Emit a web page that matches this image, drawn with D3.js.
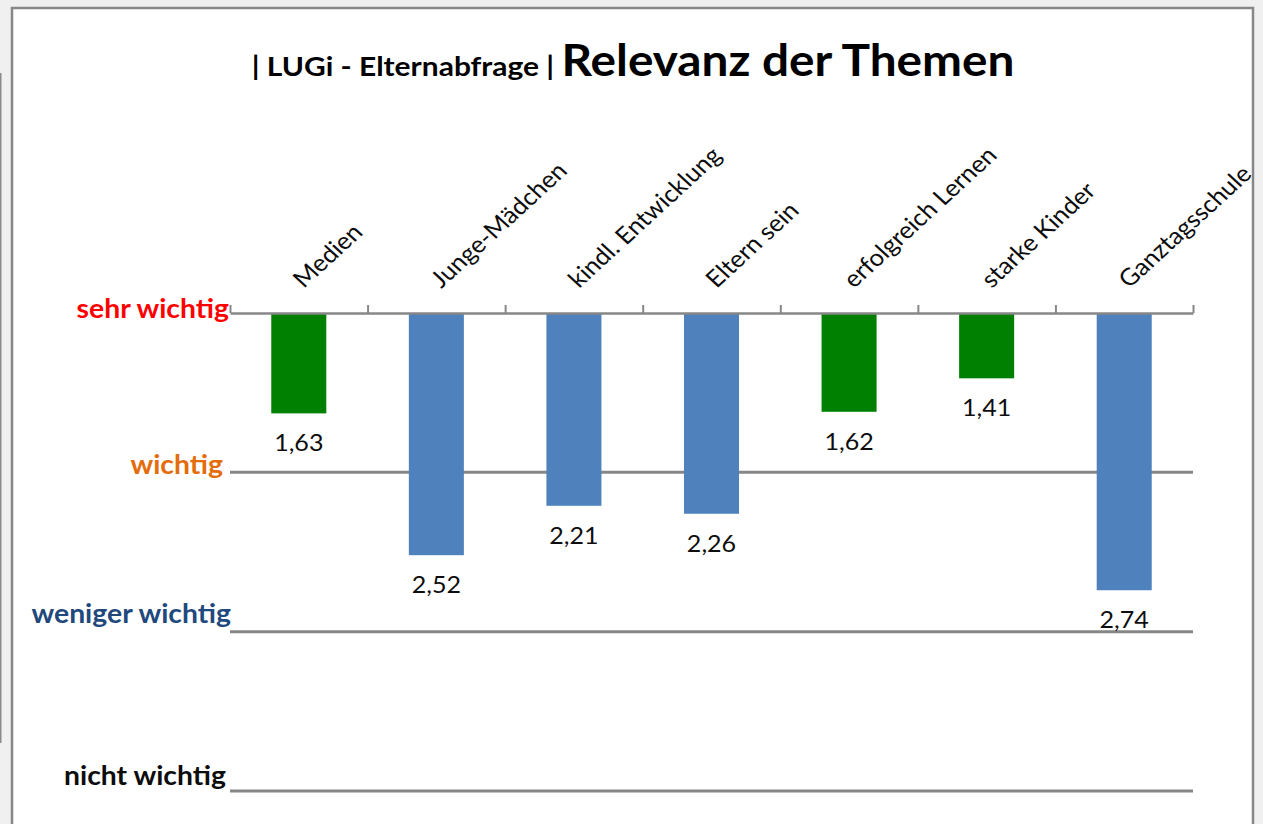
<!DOCTYPE html>
<html>
<head>
<meta charset="utf-8">
<script src="https://cdn.jsdelivr.net/npm/d3@7"></script>
<style>
  html, body { margin: 0; padding: 0; background: #f0f0f0; overflow: hidden; }
  svg { display: block; font-family: Lato, 'Open Sans', sans-serif; }
</style>
</head>
<body>
<div id="chart"></div>
<script>
const categories = ['Medien', 'Junge-Mädchen', 'kindl. Entwicklung', 'Eltern sein', 'erfolgreich Lernen', 'starke Kinder', 'Ganztagsschule'];
const values = [1.63, 2.52, 2.21, 2.26, 1.62, 1.41, 2.74];
const levels = [1, 2, 3, 4];
const levelNames = ['sehr wichtig', 'wichtig', 'weniger wichtig', 'nicht wichtig'];
const titleSmall = '| LUGi - Elternabfrage | ';
const titleBig = 'Relevanz der Themen';

// label colours and small nudges, the original had hand placed text boxes
const levelStyle = {
    'sehr wichtig': { color: '#ff0000', dx: 1, dy: 5 },
    'wichtig': { color: '#e46c0a', dx: -5, dy: 2 },
    'weniger wichtig': { color: '#1f497d', dx: 3, dy: -9 },
    'nicht wichtig': { color: '#0d0d0d', dx: -2, dy: -6 }
};

// the source picture was stretched sideways a little, so the text is too
const stretch = 1.09;

const fmt = d3.formatLocale({ decimal: ',', thousands: '.', grouping: [3], currency: ['', ' €'] }).format('.2f');

function place(x, y) {
    return 'translate(' + x + ',' + y + ') scale(' + stretch + ',1)';
}

function RelevanzChart(container, width, height) {
    this.width = width;
    this.height = height;
    this.plot = { left: 230, right: 1193, top: 313, bottom: 791 };
    this.svg = container.append('svg')
        .attr('width', width)
        .attr('height', height);
    this.x = d3.scaleBand()
        .domain(categories)
        .range([this.plot.left, this.plot.right])
        .paddingInner(0.6)
        .paddingOuter(0.3);
    this.y = d3.scaleLinear()
        .domain([levels[0], levels[levels.length - 1]])
        .range([this.plot.top, this.plot.bottom]);
}

RelevanzChart.prototype.frame = function () {
    this.svg.append('rect')
        .attr('x', 0)
        .attr('y', 73)
        .attr('width', 1.5)
        .attr('height', 670)
        .attr('fill', '#8a8a8a');
    this.svg.append('rect')
        .attr('x', 12)
        .attr('y', 8)
        .attr('width', 1241)
        .attr('height', this.height + 20)
        .attr('fill', '#fff')
        .attr('stroke', '#878787')
        .attr('stroke-width', 2.5);

    this.svg.append('text')
        .attr('transform', 'translate(633,76) scale(1.11,1)')
        .attr('text-anchor', 'middle')
        .attr('font-weight', 'bold')
        .attr('fill', '#000')
        .call(t => {
            t.append('tspan').attr('font-size', '27px').text(titleSmall);
            t.append('tspan').attr('font-size', '43px').text(titleBig);
        });
};

RelevanzChart.prototype.draw = function () {
    const x = this.x, y = this.y;

    this.svg.append('g')
        .classed('grid', true)
      .selectAll('line')
      .data(levels.slice(1))
      .enter().append('line')
        .attr('x1', this.plot.left)
        .attr('x2', this.plot.right)
        .attr('y1', d => y(d))
        .attr('y2', d => y(d))
        .attr('stroke', '#868686')
        .attr('stroke-width', 3);

    this.svg.append('g')
        .selectAll('text')
        .data(levels)
        .enter().append('text')
        .attr('transform', (d, i) => {
            let s = levelStyle[levelNames[i]];
            return place(this.plot.left - 2 + s.dx, y(d) + s.dy);
        })
        .attr('text-anchor', 'end')
        .attr('font-size', '26px')
        .attr('font-weight', 'bold')
        .attr('fill', (d, i) => levelStyle[levelNames[i]].color)
        .text((d, i) => levelNames[i]);

    this.svg.append('g')
        .classed('bars', true)
      .selectAll('rect')
      .data(values)
      .enter().append('rect')
        .attr('x', (d, i) => x(categories[i]))
        .attr('y', y(levels[0]))
        .attr('width', x.bandwidth())
        .attr('height', d => y(d) - y(levels[0]))
        .attr('fill', d => d < levels[1] ? '#008000' : '#4f81bd');

    // category boundaries as tick marks on the top axis
    const edges = d3.scaleLinear()
        .domain([0, categories.length])
        .range([this.plot.left, this.plot.right]);
    const axis = this.svg.append('g')
        .attr('transform', 'translate(0,' + y(levels[0]) + ')')
        .call(d3.axisTop(edges).ticks(categories.length).tickFormat('').tickSizeInner(8).tickSizeOuter(0));
    axis.select('.domain').attr('stroke', '#878787').attr('stroke-width', 2.5);
    axis.selectAll('.tick line').attr('stroke', '#878787').attr('stroke-width', 2);

    this.svg.append('g')
        .selectAll('text')
        .data(categories)
        .enter().append('text')
        .attr('transform', d => place(x(d) + x.bandwidth() / 2 + 5, 289) + ' rotate(-45)')
        .attr('font-size', '23.5px')
        .attr('fill', '#0d0d0d')
        .text(d => d);

    this.svg.append('g')
        .selectAll('text')
        .data(values)
        .enter().append('text')
        .attr('transform', (d, i) => place(x(categories[i]) + x.bandwidth() / 2, y(d) + 38))
        .attr('text-anchor', 'middle')
        .attr('font-size', '23px')
        .attr('fill', '#0d0d0d')
        .text(d => fmt(d));
};

const chart = new RelevanzChart(d3.select('#chart'), 1263, 824);
chart.frame();
chart.draw();
</script>
</body>
</html>
